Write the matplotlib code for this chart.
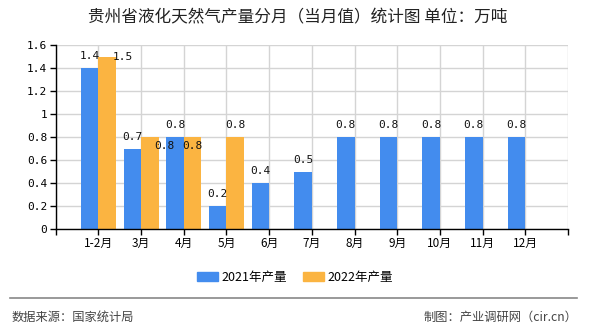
import matplotlib.pyplot as plt
import numpy as np
from matplotlib.patches import Patch

plt.rcParams['font.family'] = ['Noto Sans CJK SC', 'DejaVu Sans']

months = ['1-2月', '3月', '4月', '5月', '6月', '7月', '8月', '9月', '10月', '11月', '12月']
y2021 = [1.4, 0.7, 0.8, 0.2, 0.4, 0.5, 0.8, 0.8, 0.8, 0.8, 0.8]
y2022 = [1.5, 0.8, 0.8, 0.8, None, None, None, None, None, None, None]

# label offsets in pixels (dx, dy from bar top), mimic the overlapping layout of the original
off2021 = [(0, 12)] * 11
off2022 = [(16, 0), (15, -9), (0, -9), (0, 12)]

blue = '#438cee'
orange = '#fbb441'

fig = plt.figure(figsize=(5.9, 3.3), dpi=100)
ax = fig.add_axes([55.7 / 590, 1 - 229 / 330, (568 - 55.7) / 590, (229 - 45.2) / 330])

x = np.arange(len(months))
w = 0.41
ax.bar(x - w / 2, y2021, w, color=blue, zorder=2)
x22 = [i for i, v in enumerate(y2022) if v is not None]
v22 = [y2022[i] for i in x22]
ax.bar(np.array(x22) + w / 2, v22, w, color=orange, zorder=2)

px = 0.72  # pixels -> points
lbl = dict(ha='center', va='center', fontsize=8, family='DejaVu Sans Mono',
           textcoords='offset points', zorder=4, color='#111111')
for i, v in enumerate(y2021):
    dx, dy = off2021[i]
    ax.annotate(f'{v:g}', (i - w / 2, v), xytext=(dx * px, dy * px), **lbl)
for i, v in zip(x22, v22):
    dx, dy = off2022[i]
    ax.annotate(f'{v:g}', (i + w / 2, v), xytext=(dx * px, dy * px), **lbl)

ax.set_xlim(-1, 11)
ax.set_ylim(0, 1.6)
ax.set_xticks(np.arange(-1, 12))
ax.set_xticklabels([''] + months + [''], fontsize=8.5)
ax.set_yticks(np.arange(0, 1.61, 0.2))
ax.set_yticklabels(['0', '0.2', '0.4', '0.6', '0.8', '1', '1.2', '1.4', '1.6'],
                   fontsize=8, family='DejaVu Sans Mono')
ax.grid(True, color='#d4d4d4', linewidth=1, zorder=0)
ax.set_axisbelow(True)
for s in ['top', 'right']:
    ax.spines[s].set_visible(False)
for s in ['left', 'bottom']:
    ax.spines[s].set_color('#000000')
    ax.spines[s].set_linewidth(1)
ax.tick_params(length=4, width=1, pad=2, colors='#000000')

fig.text(298 / 590, 1 - 18 / 330, '贵州省液化天然气产量分月（当月值）统计图 单位：万吨',
         ha='center', va='center', fontsize=12, color='#222222')

handles = [Patch(color=blue, label='2021年产量'), Patch(color=orange, label='2022年产量')]
fig.legend(handles=handles, loc='center', bbox_to_anchor=(295 / 590, 1 - 277 / 330), ncol=2,
           frameon=False, fontsize=9, handlelength=1.7, handleheight=0.7,
           handletextpad=0.25, columnspacing=1.3)

fig.add_artist(plt.Line2D([10 / 590, 577 / 590], [1 - 298 / 330] * 2, color='#888888', linewidth=1.2))
fig.text(12 / 590, 1 - 317 / 330, '数据来源：国家统计局', ha='left', va='center', fontsize=8.8, color='#444444')
fig.text(577 / 590, 1 - 317 / 330, '制图：产业调研网（cir.cn）', ha='right', va='center', fontsize=8.8, color='#444444')

fig.savefig('out.png', dpi=100)
